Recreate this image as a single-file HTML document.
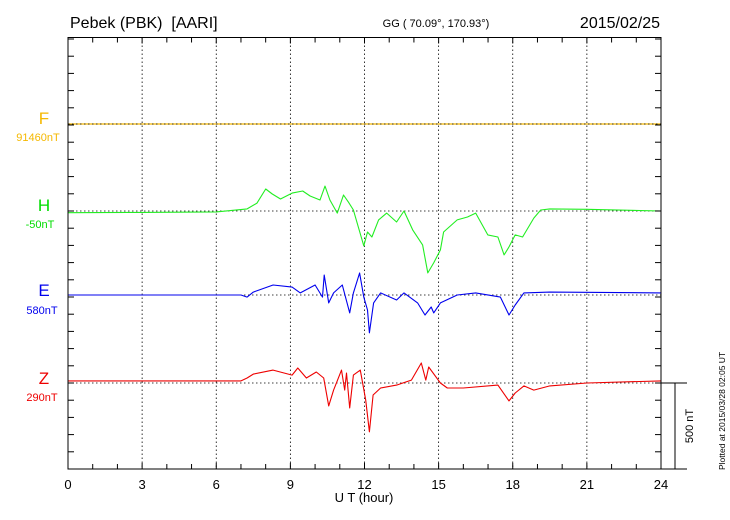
<!DOCTYPE html>
<html><head><meta charset="utf-8"><style>
html,body{margin:0;padding:0;background:#fff;}
svg{display:block;font-family:"Liberation Sans",Arial,sans-serif;}
</style></head><body>
<svg id="chart" width="730" height="520" viewBox="0 0 730 520">
<text x="70" y="28" font-size="16">Pebek (PBK)&#160;&#160;[AARI]</text>
<text x="436" y="27" font-size="11" text-anchor="middle">GG ( 70.09°, 170.93°)</text>
<text x="660" y="28" font-size="16" text-anchor="end">2015/02/25</text>
<g id="grid"></g>
<g id="series"></g>
<g id="baselines"></g>
<rect x="68" y="37.5" width="593" height="431.5" fill="none" stroke="#000" stroke-width="1"/>
<g id="axes"></g>
<text x="364" y="502" font-size="13" text-anchor="middle">U T (hour)</text>
<line x1="661" y1="383" x2="687" y2="383" stroke="#000"/>
<line x1="661" y1="469" x2="687" y2="469" stroke="#000"/>
<line x1="675" y1="383" x2="675" y2="469" stroke="#000"/>
<text transform="translate(693,426) rotate(-90)" font-size="11" text-anchor="middle">500 nT</text>
<text transform="translate(725,470) rotate(-90)" font-size="8.5">Plotted at 2015/03/28 02:05 UT</text>
<text x="44" y="124" font-size="17" fill="#f5b800" text-anchor="middle">F</text>
<text x="38" y="141" font-size="11" fill="#f5b800" text-anchor="middle">91460nT</text>
<text x="44" y="211" font-size="17" fill="#00dd00" text-anchor="middle">H</text>
<text x="40" y="228" font-size="11" fill="#00dd00" text-anchor="middle">-50nT</text>
<text x="44" y="296" font-size="17" fill="#0000ee" text-anchor="middle">E</text>
<text x="42" y="314" font-size="11" fill="#0000ee" text-anchor="middle">580nT</text>
<text x="44" y="384" font-size="17" fill="#ee0000" text-anchor="middle">Z</text>
<text x="42" y="401" font-size="11" fill="#ee0000" text-anchor="middle">290nT</text>
</svg>
<script>
const xTicks = [0,3,6,9,12,15,18,21,24];
const fT = [0,24];
const fV = [0,0];
const hT = [0,3,6,7.25,7.65,8.0,8.27,8.6,9.07,9.5,9.8,10.2,10.4,10.6,10.9,11.15,11.35,11.55,11.76,11.97,12.12,12.3,12.57,12.9,13.3,13.6,13.95,14.35,14.56,14.8,15.07,15.2,15.75,16.17,16.5,16.99,17.4,17.65,17.85,18.1,18.4,18.85,19.13,19.5,21,24];
const hV = [-10,-8,-5,12,46,128,99,70,104,116,87,64,145,64,-12,93,52,6,-99,-203,-122,-151,-52,-12,-64,0,-110,-197,-360,-302,-226,-122,-52,-35,-12,-139,-151,-255,-209,-139,-151,-41,6,12,10,0];
const eT = [0,7,7.25,7.5,8.3,9.07,9.4,10.0,10.3,10.37,10.55,10.75,11.1,11.4,11.55,11.8,11.97,12.12,12.2,12.37,12.65,13.3,13.6,14.15,14.45,14.7,14.8,15.07,15.75,16.5,17.5,17.85,18.1,18.45,19.5,24];
const eV = [0,0,-12,17,58,46,12,58,-12,116,-46,12,58,-104,12,128,-12,-87,-220,-46,12,-29,12,-46,-116,-70,-104,-46,0,12,-12,-116,-58,12,17,12];
const zT = [0,7,7.25,7.5,8.3,9.07,9.3,9.65,10.05,10.35,10.55,10.75,11.07,11.2,11.27,11.4,11.55,11.83,12.05,12.2,12.35,12.65,13.3,13.9,14.3,14.48,14.6,15.07,15.35,16.0,17.4,17.85,18.1,18.45,18.85,19.5,21,24];
const zV = [12,12,29,52,75,46,87,29,64,29,-133,-41,75,-41,58,-145,46,75,-99,-284,-70,-29,-12,17,116,17,93,0,-29,-29,-12,-104,-58,-17,-41,-17,0,12];

const NS='http://www.w3.org/2000/svg';
const X0=68,X1=661,YT=37.5,YB=469,PXNT=86/500;
function xs(h){return X0+(X1-X0)*h/24;}
function ys(base,v){return base-v*PXNT;}
function mk(tag,attrs,parent){const e=document.createElementNS(NS,tag);for(const k in attrs)e.setAttribute(k,attrs[k]);parent.appendChild(e);return e;}
const grid=document.getElementById('grid'),axes=document.getElementById('axes'),ser=document.getElementById('series'),bls=document.getElementById('baselines');
xTicks.forEach(h=>{
  if(h>0&&h<24){const l=mk('line',{x1:xs(h),y1:YT,x2:xs(h),y2:YB,stroke:'#000','stroke-width':0.8,'stroke-dasharray':'1.5,2.5'},grid);
  
  }
  const t=mk('text',{x:xs(h),y:489,'font-size':13,'text-anchor':'middle'},axes);t.textContent=h;
  
  
});
for(let h=1;h<24;h++){
  const len=(h%3===0)?6:5;
  const a=mk('line',{x1:xs(h),y1:YT,x2:xs(h),y2:YT+len,stroke:'#000'},axes);
  
  
  const b=mk('line',{x1:xs(h),y1:YB,x2:xs(h),y2:YB-len,stroke:'#000'},axes);
  
  
}
for(let y=YB;y>YT+1;y-=100*PXNT){
  const a=mk('line',{x1:X0,y1:y,x2:X0+6,y2:y,stroke:'#000'},axes);
  
  
  const b=mk('line',{x1:X1,y1:y,x2:X1-6,y2:y,stroke:'#000'},axes);
  
  
}
const S=[
 {n:'f',base:124,t:fT,v:fV,c:'#f5b800',w:1.3},
 {n:'h',base:211,t:hT,v:hV,c:'#22ee22',w:1.1},
 {n:'e',base:295,t:eT,v:eV,c:'#0000ee',w:1.1},
 {n:'z',base:383,t:zT,v:zV,c:'#ee0000',w:1.1}
];
S.forEach(s=>{
  const pts=s.t.map((h,i)=>xs(h).toFixed(1)+','+ys(s.base,s.v[i]).toFixed(1)).join(' ');
  const p=mk('polyline',{points:pts,fill:'none',stroke:s.c,'stroke-width':s.w,'stroke-linejoin':'round'},ser);
  
  
  const bl=mk('line',{x1:X0,y1:s.base,x2:X1,y2:s.base,stroke:'#000','stroke-width':0.8,'stroke-dasharray':'1.5,2.5'},s.n==='f'?bls:grid);
  
  
});
</script>
</body></html>
